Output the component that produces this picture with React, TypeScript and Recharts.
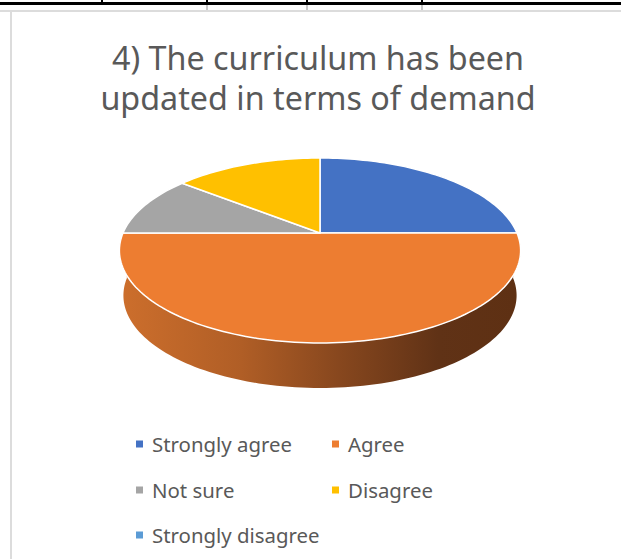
import React from 'react';
import { PieChart, Pie, Legend } from 'recharts';

const categories = ['Strongly agree', 'Agree', 'Not sure', 'Disagree', 'Strongly disagree'];
const values = [7, 14, 3, 4, 0];
const colors = ['#4472C4', '#ED7D31', '#A5A5A5', '#FFC000', '#5B9BD5'];
const titleLines = ['4) The curriculum has been', 'updated in terms of demand'];

const data = categories.map((name, i) => ({ name, value: values[i] }));

// 3D perspective projection of the pie disk
const RX = 197;
const B = 89.2;
const K = 0.189;
const DEPTH = 45;
const BOTTOM_SX = 0.98;

function proj(cx: number, cy: number, deg: number, depth = 0, sx = 1): [number, number] {
  const t = (deg * Math.PI) / 180;
  const c = Math.cos(t);
  const s = Math.sin(t);
  const w = 1 + K * s;
  return [cx + (sx * RX * c) / w, cy - (B * s) / w + depth];
}

function arcPts(cx: number, cy: number, a0: number, a1: number, depth = 0, sx = 1) {
  const n = Math.max(2, Math.ceil(Math.abs(a1 - a0) / 1.5));
  const pts: [number, number][] = [];
  for (let i = 0; i <= n; i++) {
    const a = a0 + ((a1 - a0) * i) / n;
    pts.push(proj(cx, cy, a, depth, sx));
  }
  return pts;
}

const renderTop = (props: any) => {
  const { cx, cy, startAngle, endAngle, index } = props;
  if (Math.abs(endAngle - startAngle) < 0.01) return <g />;
  const pts = arcPts(cx, cy, startAngle, endAngle);
  const d = `M${cx},${cy} ` + pts.map((p) => `L${p[0].toFixed(2)},${p[1].toFixed(2)}`).join(' ') + ' Z';
  return (
    <path d={d} fill={colors[index]} stroke="#ffffff" strokeWidth={1.5} strokeLinejoin="round" />
  );
};

const renderSide = (props: any) => {
  const { cx, cy, startAngle, endAngle, index } = props;
  const lo = Math.max(Math.min(startAngle, endAngle), -180);
  const hi = Math.min(Math.max(startAngle, endAngle), 0);
  if (hi - lo < 0.01) return <g />;
  const top = arcPts(cx, cy, hi, lo);
  const bottom = arcPts(cx, cy, lo, hi, DEPTH, BOTTOM_SX);
  const all = [...top, ...bottom];
  const d = 'M' + all.map((p) => `${p[0].toFixed(2)},${p[1].toFixed(2)}`).join(' L') + ' Z';
  const gid = `sideGrad${index}`;
  return (
    <g>
      <defs>
        <linearGradient id={gid} gradientUnits="userSpaceOnUse" x1={cx - RX} y1={0} x2={cx + RX} y2={0}>
          <stop offset="0" stopColor="#CC6E2C" />
          <stop offset="0.3" stopColor="#B05E26" />
          <stop offset="0.55" stopColor="#87471E" />
          <stop offset="0.8" stopColor="#603216" />
          <stop offset="1" stopColor="#5E3013" />
        </linearGradient>
      </defs>
      <path d={d} fill={`url(#${gid})`} stroke="none" />
    </g>
  );
};

const LegendContent = () => {
  const colX = [136, 332];
  const rowY = [444, 490, 535];
  return (
    <svg width={621} height={559} style={{ position: 'absolute', left: 0, top: 0, pointerEvents: 'none' }}>
      {categories.map((name, i) => {
        const x = colX[i % 2];
        const y = rowY[Math.floor(i / 2)];
        return (
          <g key={name}>
            <rect x={x} y={y - 3.5} width={7} height={7} fill={colors[i]} />
            <text x={x + 16} y={y + 7.5} fontFamily="'Noto Sans', sans-serif" fontSize={20.4} fill="#595959">
              {name}
            </text>
          </g>
        );
      })}
    </svg>
  );
};

export default function App() {
  return (
    <div style={{ position: 'absolute', left: 0, top: 0, width: 621, height: 559, background: '#fff', overflow: 'hidden' }}>
      {/* table borders */}
      <div style={{ position: 'absolute', left: 0, top: 2, width: 621, height: 3, background: '#000' }} />
      <div style={{ position: 'absolute', left: 101, top: 0, width: 2, height: 3, background: '#000' }} />
      {[206, 306, 421].map((x) => (
        <React.Fragment key={x}>
          <div style={{ position: 'absolute', left: x, top: 0, width: 2, height: 5, background: '#000' }} />
          <div style={{ position: 'absolute', left: x, top: 5, width: 2, height: 6, background: '#C8C8C8' }} />
        </React.Fragment>
      ))}
      <div style={{ position: 'absolute', left: 0, top: 10, width: 621, height: 2, background: '#DCDCDC' }} />
      <div style={{ position: 'absolute', left: 10, top: 10, width: 2, height: 549, background: '#DCDCDC' }} />

      {/* title */}
      <svg width={621} height={130} style={{ position: 'absolute', left: 0, top: 0 }}>
        {titleLines.map((line, i) => (
          <text
            key={i}
            x={318}
            y={70 + i * 40}
            textAnchor="middle"
            fontFamily="'Noto Sans', sans-serif"
            fontSize={32.3}
            fill="#595959"
          >
            {line}
          </text>
        ))}
      </svg>

      <div style={{ position: 'absolute', left: 0, top: 0 }}>
        <PieChart width={621} height={559} margin={{ top: 0, right: 0, bottom: 0, left: 0 }}>
          <Pie
            data={data}
            dataKey="value"
            nameKey="name"
            cx={320}
            cy={233}
            outerRadius={1}
            startAngle={90}
            endAngle={-270}
            fill="none"
            stroke="none"
            label={renderSide}
            labelLine={false}
            legendType="none"
            isAnimationActive={false}
          />
          <Pie
            data={data}
            dataKey="value"
            nameKey="name"
            cx={320}
            cy={233}
            outerRadius={1}
            startAngle={90}
            endAngle={-270}
            fill="none"
            stroke="none"
            label={renderTop}
            labelLine={false}
            isAnimationActive={false}
          />
          <Legend content={() => <LegendContent />} wrapperStyle={{ position: 'absolute', left: 0, top: 0, width: 621, height: 559 }} />
        </PieChart>
      </div>
    </div>
  );
}
